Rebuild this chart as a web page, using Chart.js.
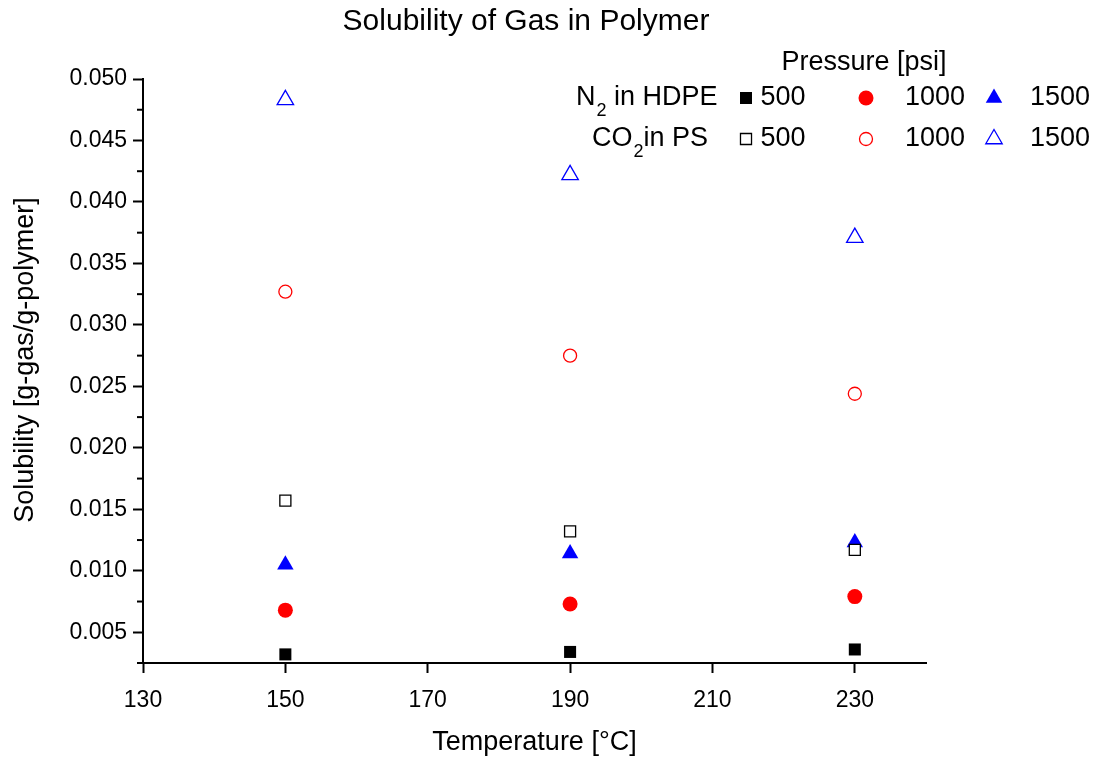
<!DOCTYPE html>
<html>
<head>
<meta charset="utf-8">
<script src="https://cdn.jsdelivr.net/npm/chart.js@4/dist/chart.umd.min.js"></script>
<style>
  html, body { margin: 0; padding: 0; background: #fff; }
  #wrap { width: 1104px; height: 763px; }
</style>
</head>
<body>
<div id="wrap"><canvas id="chart"></canvas></div>
<script>
const temps = [150, 190, 230]

const n2_500 = [0.0032, 0.0034, 0.0036]
const n2_1000 = [0.0068, 0.0073, 0.0079]
const n2_1500 = [0.0105, 0.0114, 0.0123]
const co2_500 = [0.0157, 0.0132, 0.0117]
const co2_1000 = [0.0327, 0.0275, 0.0244]
const co2_1500 = [0.0483, 0.0422, 0.0371]

const xTicks = [130, 150, 170, 190, 210, 230]
const yTicks = [0.005, 0.010, 0.015, 0.020, 0.025, 0.030, 0.035, 0.040, 0.045, 0.050]
const yMinorTicks = [0.0025, 0.0075, 0.0125, 0.0175, 0.0225, 0.0275, 0.0325, 0.0375, 0.0425, 0.0475]

const FONT = 'Arial, "Liberation Sans", sans-serif'
const BLACK = '#000000'
const RED = '#ff0000'
const BLUE = '#0000ff'

const toPoints = vals => temps.map((t, i) => ({ x: t, y: vals[i] }))

const series = [
  { data: n2_500, style: 'rect', color: BLACK, filled: true, r: 8.5 },
  { data: n2_1000, style: 'circle', color: RED, filled: true, r: 7.5 },
  { data: n2_1500, style: 'triangle', color: BLUE, filled: true, r: 9.5 },
  { data: co2_500, style: 'rect', color: BLACK, filled: false, r: 7.8 },
  { data: co2_1000, style: 'circle', color: RED, filled: false, r: 6.5 },
  { data: co2_1500, style: 'triangle', color: BLUE, filled: false, r: 9.5 }
]

const datasets = series.map(s => ({
  data: toPoints(s.data),
  pointStyle: s.style,
  pointRadius: s.r,
  pointHoverRadius: s.r,
  pointBorderWidth: s.filled ? 0 : 1.3,
  pointBorderColor: s.color,
  pointBackgroundColor: s.filled ? s.color : '#ffffff',
  showLine: false,
  order: s.filled ? 1 : 0
}))

// simple marker drawer for the legend, same shapes as chart points
function drawMarker(ctx, s, x, y) {
  ctx.save()
  ctx.beginPath()
  if (s.style === 'rect') {
    const h = Math.SQRT1_2 * s.r
    ctx.rect(x - h, y - h, 2 * h, 2 * h)
  } else if (s.style === 'circle') {
    ctx.arc(x, y, s.r, 0, Math.PI * 2)
  } else {
    for (let k = 0; k < 3; k++) {
      const a = k * 2 * Math.PI / 3
      const px = x + Math.sin(a) * s.r
      const py = y - Math.cos(a) * s.r
      k === 0 ? ctx.moveTo(px, py) : ctx.lineTo(px, py)
    }
    ctx.closePath()
  }
  if (s.filled) {
    ctx.fillStyle = s.color
    ctx.fill()
  } else {
    ctx.fillStyle = '#ffffff'
    ctx.fill()
    ctx.lineWidth = 1.3
    ctx.strokeStyle = s.color
    ctx.stroke()
  }
  ctx.restore()
}

const decorations = {
  id: 'decorations',
  afterDraw(chart) {
    const ctx = chart.ctx
    const y = chart.scales.y
    ctx.save()

    // minor ticks on the y axis
    ctx.strokeStyle = BLACK
    ctx.lineWidth = 2
    yMinorTicks.forEach(v => {
      const py = y.getPixelForValue(v)
      ctx.beginPath()
      ctx.moveTo(y.right - 6, py)
      ctx.lineTo(y.right, py)
      ctx.stroke()
    })

    ctx.fillStyle = BLACK
    ctx.textBaseline = 'middle'

    // title
    ctx.textAlign = 'center'
    ctx.font = '30px ' + FONT
    ctx.fillText('Solubility of Gas in Polymer', 526, 22)

    // y axis title, a bit above the plot centre as in the original
    ctx.save()
    ctx.translate(26, 360)
    ctx.rotate(-Math.PI / 2)
    ctx.font = '27px ' + FONT
    ctx.fillText('Solubility [g-gas/g-polymer]', 0, 0)
    ctx.restore()

    // legend
    ctx.font = '27px ' + FONT
    ctx.fillText('Pressure [psi]', 864, 63)

    const rows = [{ y: 98, name: 'N', sub: '2', rest: ' in HDPE', x0: 576 },
                  { y: 139, name: 'CO', sub: '2', rest: 'in PS', x0: 592 }]
    rows.forEach((row, ri) => {
      ctx.textAlign = 'left'
      ctx.font = '27px ' + FONT
      let x = row.x0
      ctx.fillText(row.name, x, row.y)
      x += ctx.measureText(row.name).width
      ctx.font = '18px ' + FONT
      ctx.fillText(row.sub, x + 1, row.y + 13)
      x += ctx.measureText(row.sub).width + 1
      ctx.font = '27px ' + FONT
      ctx.fillText(row.rest, x, row.y)

      const labels = ['500', '1000', '1500']
      const markerX = [746, 866, 994]
      const labelX = [783, 935, 1060]
      for (let k = 0; k < 3; k++) {
        drawMarker(ctx, series[ri * 3 + k], markerX[k], row.y)
        ctx.textAlign = 'center'
        ctx.fillText(labels[k], labelX[k], row.y)
      }
    })
    ctx.restore()
  }
}

new Chart(document.getElementById('chart'), {
  type: 'scatter',
  data: { datasets },
  options: {
    responsive: true,
    maintainAspectRatio: false,
    animation: false,
    layout: { padding: { top: 79, right: 178, left: 0, bottom: 0 } },
    plugins: {
      legend: { display: false },
      title: { display: false },
      tooltip: { enabled: false }
    },
    scales: {
      x: {
        type: 'linear',
        min: 130,
        max: 240,
        afterBuildTicks: axis => { axis.ticks = xTicks.map(v => ({ value: v })) },
        afterFit: axis => { axis.height = 100 },
        grid: { drawOnChartArea: false, tickLength: 10, tickWidth: 2, tickColor: BLACK },
        border: { color: BLACK, width: 2 },
        ticks: { color: BLACK, padding: 14, maxRotation: 0, font: { family: FONT, size: 23 } },
        title: {
          display: true,
          text: 'Temperature [°C]',
          color: BLACK,
          padding: { top: 0, bottom: 4 },
          font: { family: FONT, size: 27 }
        }
      },
      y: {
        type: 'linear',
        min: 0.0025,
        max: 0.05,
        afterBuildTicks: axis => { axis.ticks = yTicks.map(v => ({ value: v })) },
        afterFit: axis => { axis.width = 143 },
        grid: { drawOnChartArea: false, tickLength: 10, tickWidth: 2, tickColor: BLACK },
        border: { color: BLACK, width: 2 },
        ticks: {
          color: BLACK,
          padding: 6,
          font: { family: FONT, size: 23 },
          callback: v => v.toFixed(3)
        }
      }
    }
  },
  plugins: [decorations]
})
</script>
</body>
</html>
